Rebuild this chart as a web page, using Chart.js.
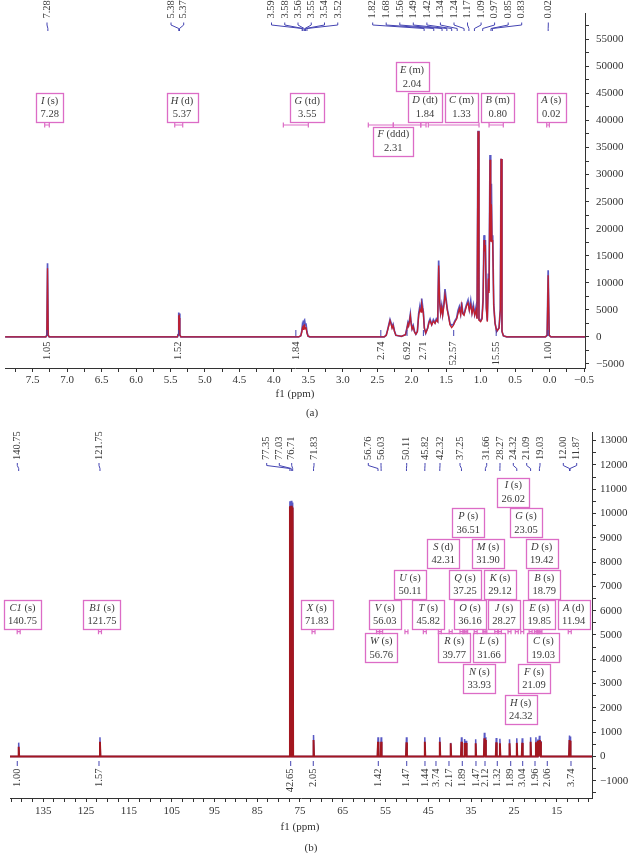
<!DOCTYPE html>
<html><head><meta charset="utf-8">
<script src="https://cdn.jsdelivr.net/npm/chart.js@4"></script>
<style>
html,body{margin:0;padding:0;background:#fff;}
#wrap{position:relative;width:628px;height:853px;overflow:hidden;background:#fff;}
#c1{position:absolute;left:0;top:0;}
#c2{position:absolute;left:0;top:420px;}
</style></head><body>
<div id="wrap">
<canvas id="c1" width="628" height="420"></canvas>
<canvas id="c2" width="628" height="433"></canvas>
</div>
<script>
// ===================== (a) 1H NMR data =====================
const H_ppm = [7.90,7.31,7.295,7.285,7.275,7.26,
 5.40,5.39,5.383,5.378,5.372,5.365,5.35,
 3.64,3.61,3.595,3.585,3.575,3.565,3.555,3.545,3.535,3.52,3.505,3.48,
 2.40,2.37,2.35,2.33,2.315,2.30,2.285,2.27,2.25,2.23,2.15,
 2.09,2.07,2.055,2.045,2.03,2.02,2.01,1.995,1.978,1.96,1.94,
 1.918,1.899,1.880,1.865,1.855,1.841,1.831,1.817,1.797,
 1.768,1.750,1.734,1.710,1.686,1.662,1.643,1.623,1.609,1.594,1.580,1.565,1.551,1.531,1.517,1.502,1.483,1.464,1.444,1.420,1.396,1.372,1.348,1.328,1.309,1.290,1.275,1.260,1.241,1.222,1.202,1.183,1.164,1.144,1.125,1.106,1.086,1.067,1.052,1.038,1.024,1.000,0.980,0.965,0.951,0.941,0.931,0.917,0.903,0.888,0.878,0.864,0.854,0.844,0.835,0.825,0.810,0.791,0.767,0.733,0.714,0.704,0.690,0.670,0.622,
 0.06,0.035,0.02,0.005,-0.02,-0.515];
const H_red = [0,0,300,12700,300,0,
 0,400,4000,3000,3500,400,0,
 0,200,900,1700,1400,2100,2200,1500,1800,700,150,0,
 0,300,1200,2200,3000,2400,1600,2100,1000,300,100,
 400,1500,2400,2000,3000,3900,2600,1400,1900,900,500,
 1000,4000,5200,4600,6050,5200,4300,1600,700,
 1600,2600,3000,2200,2900,2500,3100,2800,13200,6300,4300,5500,4000,6000,7800,6650,4900,3700,2200,1700,2100,2800,3300,4300,5200,4100,5800,4300,4000,4900,5800,6300,4900,6000,4300,5400,4000,4900,3300,38000,3100,2800,3300,6600,17900,15800,17000,5200,2800,10800,8100,32750,17600,24500,17600,17900,5800,2500,1000,1600,5000,32900,1000,200,0,
 0,300,11400,300,0,0];
const H_blue = [0,0,300,13600,300,0,
 0,400,4500,3400,4300,400,0,
 0,200,1100,2300,1800,2900,3100,2200,2500,900,150,0,
 0,300,1300,2400,3200,2600,1800,2300,1100,300,100,
 400,1600,2600,2200,3300,4200,2800,1500,2100,1000,500,
 1000,4300,5800,4900,7100,5500,4600,1700,700,
 1700,2800,3300,2300,3200,2600,3300,2900,14100,6500,4500,5800,4200,6400,8850,7100,5100,3900,2400,2200,2300,3000,3500,4900,5600,4300,6400,4500,4200,5200,6100,6800,5100,6700,4500,5900,4200,5500,3500,38100,3200,3000,3500,7000,18800,16300,17900,5400,3000,11700,8500,33600,18000,28300,18000,18800,6000,2600,1000,1700,5200,32900,1000,200,0,
 0,300,12300,300,0,0];

// peak picking labels (top)
const H_peakLabels = [7.28, 5.38,5.37, 3.59,3.58,3.56,3.55,3.54,3.52,
 1.82,1.68,1.56,1.49,1.42,1.34,1.24,1.17,1.09,0.97,0.85,0.83, 0.02];
// multiplet boxes
const H_boxLetter = ['I','H','G','F','E','D','C','B','A'];
const H_boxMult   = ['s','d','td','ddd','m','dt','m','m','s'];
const H_boxVal    = [7.28,5.37,3.55,2.31,2.04,1.84,1.33,0.80,0.02];
// integration ranges (ppm) and integrals
const H_intFrom = [7.326,5.439,3.863,2.630,2.267,1.869,1.759,0.878,0.041];
const H_intTo   = [7.259,5.323,3.500,2.267,1.869,1.792,1.023,0.671,0.003];
const H_intVal  = [1.05,1.52,1.84,2.74,6.92,2.71,52.57,15.55,1.00];
// axis tick labels
const H_xTickLabels = [7.5,7.0,6.5,6.0,5.5,5.0,4.5,4.0,3.5,3.0,2.5,2.0,1.5,1.0,0.5,0.0,-0.5];
const H_yTickLabels = [-5000,0,5000,10000,15000,20000,25000,30000,35000,40000,45000,50000,55000];

// ===================== (b) 13C NMR data =====================
const C_peakPpm = [140.75,121.75,77.35,77.03,76.71,71.83,56.76,56.03,50.11,45.82,42.32,39.77,37.25,36.51,36.16,33.93,31.90,31.66,29.12,28.27,26.02,24.32,23.05,21.09,19.85,19.42,19.03,18.79,12.00,11.87];
const C_blue = [570,790,10500,10520,10450,885,790,790,790,790,790,560,790,720,650,710,980,790,760,730,710,750,750,790,790,700,850,640,860,820];
const C_red  = [400,610,10300,10320,10250,680,610,610,580,610,610,540,610,560,560,540,750,680,580,540,540,560,560,610,590,640,680,610,680,650];
const C_peakLabels = [140.75,121.75,77.35,77.03,76.71,71.83,56.76,56.03,50.11,45.82,42.32,37.25,31.66,28.27,24.32,21.09,19.03,12.00,11.87];
const C_boxLetter = ['I','P','G','S','M','D','U','Q','K','B','C1','B1','X','V','T','O','J','E','A','W','R','L','C','N','F','H'];
const C_boxMult   = ['s','s','s','d','s','s','s','s','s','s','s','s','s','s','s','s','s','s','d','s','s','s','s','s','s','s'];
const C_boxVal    = [26.02,36.51,23.05,42.31,31.90,19.42,50.11,37.25,29.12,18.79,140.75,121.75,71.83,56.03,45.82,36.16,28.27,19.85,11.94,56.76,39.77,31.66,19.03,33.93,21.09,24.32];
const C_intPpm = [141.08,121.98,77.17,71.89,56.69,50.05,45.78,43.21,40.17,37.06,33.86,31.75,28.88,25.74,22.94,20.06,17.19,11.65];
const C_intVal = [1.00,1.57,42.65,2.05,1.42,1.47,1.44,3.74,2.17,1.89,1.47,2.12,1.32,1.89,3.04,1.96,2.06,3.74];
const C_xTickLabels = [135,125,115,105,95,85,75,65,55,45,35,25,15];
const C_yTickLabels = [-1000,0,1000,2000,3000,4000,5000,6000,7000,8000,9000,10000,11000,12000,13000];

// ===================== layout (pixels) =====================
const H_labelX = [47, 171,183.7, 271.5,284.75,298,311.25,324.5,337.75,
 372.7,386.2,399.8,413.3,426.9,440.4,454,467.5,481.1,494.6,508.2,521.7, 548.3];
const H_boxPos = [[49.7,93],[182,93],[307.2,93],[393.3,126.7],[412,62.3],[425,92.7],[461.5,92.7],[497.7,92.7],[551.2,92.7]];
const C_labelX = [17.3,99,266.7,279.3,291.7,314,368.3,381,406.7,425,440,460,486.7,500,513.3,526.7,540,563.3,576.7];
const C_boxPos = [[513.3,477.7],[468.3,508.3],[526,508.3],[443.3,539],[488,539],[541.7,539],[410,570],[465,570],[500,570],[544.3,570],[22.5,600],[102,600],[316.7,600],[384.7,600],[428.3,600],[470,600],[504,600],[539.3,600],[573.7,600],[381.3,633.3],[454.3,633.3],[489,633.3],[543.3,633.3],[479.3,664],[534,664],[520.7,695]];

// ===================== helpers =====================
const SERIF = "'Liberation Serif','DejaVu Serif',serif";
const MAG = '#dc6cc6';
const BLUE = '#4444b2';
const TXT = '#3a3a3a';
Chart.defaults.font.family = SERIF;
Chart.defaults.font.size = 11;
Chart.defaults.color = '#333';
Chart.defaults.animation = false;

const minus = s => s.replace('-', '\u2212');
const near = (a, list) => list.some(v => Math.abs(v - a) < 1e-6);
const toXY = (xs, ys) => xs.map((x, i) => ({x: x, y: ys[i]}));
function stepTicks(from, to, step) { const t = []; for (let v = from; v <= to + 1e-9; v += step) t.push({value: Math.round(v * 1000) / 1000}); return t; }
function sticks(ppm, h, hi, lo, half) {
  const pts = [{x: hi, y: 0}];
  ppm.forEach((p, i) => { pts.push({x: p + half, y: 0}, {x: p, y: h[i]}, {x: p - half, y: 0}); });
  pts.push({x: lo, y: 0});
  return pts;
}
function rotText(ctx, text, x, y, anchorBottom) {
  ctx.save();
  ctx.translate(x, y);
  ctx.rotate(-Math.PI / 2);
  ctx.textAlign = anchorBottom ? 'left' : 'right';
  ctx.textBaseline = 'middle';
  ctx.fillText(text, 0, 0);
  ctx.restore();
}
function box(ctx, cx, top, letter, mult, val) {
  const fI = 'italic 10.5px ' + SERIF, fN = '10.5px ' + SERIF;
  ctx.font = fI; const wL = ctx.measureText(letter).width;
  ctx.font = fN; const wM = ctx.measureText(' (' + mult + ')').width;
  const vs = val.toFixed(2); const wV = ctx.measureText(vs).width;
  const w = Math.max(wL + wM, wV) + 8.5, h = 29;
  ctx.strokeStyle = MAG; ctx.lineWidth = 1.3;
  ctx.strokeRect(Math.round(cx - w / 2) + 0.5, Math.round(top) + 0.5, Math.round(w), h);
  ctx.fillStyle = TXT; ctx.textBaseline = 'middle'; ctx.textAlign = 'left';
  const x1 = cx - (wL + wM) / 2;
  ctx.font = fI; ctx.fillText(letter, x1, top + 8);
  ctx.font = fN; ctx.fillText(' (' + mult + ')', x1 + wL, top + 8);
  ctx.textAlign = 'center'; ctx.fillText(vs, cx, top + 21.5);
}
function bracket(ctx, lx, px, y0, y1, y2, y3) {
  ctx.beginPath();
  ctx.moveTo(lx, y0); ctx.lineTo(lx, y1); ctx.lineTo(px, y2); ctx.lineTo(px, y3);
  ctx.stroke();
}
function rangeBar(ctx, x1, x2, y) {
  ctx.beginPath();
  ctx.moveTo(x1, y); ctx.lineTo(x2, y);
  ctx.moveTo(x1, y - 2.5); ctx.lineTo(x1, y + 2.5);
  ctx.moveTo(x2, y - 2.5); ctx.lineTo(x2, y + 2.5);
  ctx.stroke();
}

// ===================== plugin (a) =====================
const annotA = {
  id: 'annotA',
  afterDraw(chart) {
    const ctx = chart.ctx, xs = chart.scales.x;
    const px = v => xs.getPixelForValue(v);
    ctx.save();
    ctx.font = '10.5px ' + SERIF; ctx.fillStyle = TXT;
    H_peakLabels.forEach((v, i) => rotText(ctx, v.toFixed(2), H_labelX[i], 18.5, true));
    ctx.strokeStyle = BLUE; ctx.lineWidth = 1;
    H_peakLabels.forEach((v, i) => bracket(ctx, H_labelX[i], px(v), 22.5, 25, 28.5, 31));
    ctx.strokeStyle = MAG; ctx.lineWidth = 1.2;
    H_intFrom.forEach((f, i) => rangeBar(ctx, px(f), px(H_intTo[i]), 125));
    H_boxLetter.forEach((l, i) => box(ctx, H_boxPos[i][0], H_boxPos[i][1], l, H_boxMult[i], H_boxVal[i]));
    ctx.strokeStyle = BLUE; ctx.lineWidth = 1;
    ctx.font = '10.5px ' + SERIF; ctx.fillStyle = TXT;
    H_intVal.forEach((v, i) => {
      const x = px((H_intFrom[i] + H_intTo[i]) / 2);
      ctx.beginPath(); ctx.moveTo(x, 330); ctx.lineTo(x, 336); ctx.stroke();
      rotText(ctx, v.toFixed(2), x, 341.5, false);
    });
    ctx.font = '11px ' + SERIF; ctx.fillStyle = '#333'; ctx.textAlign = 'center'; ctx.textBaseline = 'middle';
    ctx.fillText('f1 (ppm)', 295, 394);
    ctx.fillText('(a)', 312, 413);
    ctx.restore();
  }
};

// ===================== plugin (b) =====================
const OFF = 420;
const annotB = {
  id: 'annotB',
  afterDraw(chart) {
    const ctx = chart.ctx, xs = chart.scales.x;
    const px = v => xs.getPixelForValue(v);
    ctx.save();
    ctx.font = '10.5px ' + SERIF; ctx.fillStyle = TXT;
    C_peakLabels.forEach((v, i) => rotText(ctx, v.toFixed(2), C_labelX[i], 460 - OFF, true));
    ctx.strokeStyle = BLUE; ctx.lineWidth = 1;
    C_peakLabels.forEach((v, i) => bracket(ctx, C_labelX[i], px(v), 463 - OFF, 465.5 - OFF, 468.5 - OFF, 471 - OFF));
    C_boxLetter.forEach((l, i) => box(ctx, C_boxPos[i][0], C_boxPos[i][1] - OFF, l, C_boxMult[i], C_boxVal[i]));
    ctx.strokeStyle = MAG; ctx.lineWidth = 1.2;
    C_boxVal.forEach(v => { const x = px(v); rangeBar(ctx, x - 1.5, x + 1.5, 631.7 - OFF); });
    ctx.strokeStyle = BLUE; ctx.lineWidth = 1;
    ctx.font = '10.5px ' + SERIF; ctx.fillStyle = TXT;
    C_intVal.forEach((v, i) => {
      const x = px(C_intPpm[i]);
      ctx.beginPath(); ctx.moveTo(x, 761 - OFF); ctx.lineTo(x, 766 - OFF); ctx.stroke();
      rotText(ctx, v.toFixed(2), x, 768.5 - OFF, false);
    });
    ctx.font = '11px ' + SERIF; ctx.fillStyle = '#333'; ctx.textAlign = 'center'; ctx.textBaseline = 'middle';
    ctx.fillText('f1 (ppm)', 300, 827 - OFF);
    ctx.fillText('(b)', 311, 848 - OFF);
    ctx.restore();
  }
};

function axisCommon(extra) {
  return Object.assign({
    grid: {drawOnChartArea: false, drawTicks: true, tickLength: 4, color: '#333', tickColor: '#333', lineWidth: 1},
    border: {display: true, color: '#333', width: 1}
  }, extra);
}

// ===================== chart (a) =====================
new Chart(document.getElementById('c1'), {
  type: 'scatter',
  data: {datasets: [
    {data: toXY(H_ppm, H_red), showLine: true, borderColor: '#c01f2e', borderWidth: 1.3, pointRadius: 0, order: 0},
    {data: toXY(H_ppm, H_blue), showLine: true, borderColor: 'rgba(70,70,190,0.9)', borderWidth: 1.7, pointRadius: 0, order: 1}
  ]},
  options: {
    responsive: false, animation: false, events: [],
    layout: {padding: {left: 5, top: 0, right: 0, bottom: 0}},
    plugins: {legend: {display: false}, tooltip: {enabled: false}},
    scales: {
      x: axisCommon({type: 'linear', position: 'bottom', reverse: true, min: -0.5145, max: 7.902,
        afterFit(s) { s.height = 52; },
        afterBuildTicks(s) { s.ticks = stepTicks(-0.5, 7.75, 0.25); },
        ticks: {autoSkip: false, maxRotation: 0, minRotation: 0, padding: 2, font: {size: 11},
          callback: v => near(v, H_xTickLabels) ? minus(Number(v).toFixed(1)) : ''}}),
      y: axisCommon({type: 'linear', position: 'right', min: -5750, max: 59750,
        afterFit(s) { s.width = 43; },
        afterBuildTicks(s) { s.ticks = stepTicks(-5000, 57500, 2500); },
        ticks: {autoSkip: false, padding: 7, font: {size: 11},
          callback: v => near(v, H_yTickLabels) ? minus(String(v)) : ''}})
    }
  },
  plugins: [annotA]
});

// ===================== chart (b) =====================
const C_MIN = 6.74, C_MAX = 142.78;
new Chart(document.getElementById('c2'), {
  type: 'scatter',
  data: {datasets: [
    {data: sticks(C_peakPpm, C_red, C_MAX, C_MIN, 0.12), showLine: true, borderColor: '#a3161f', borderWidth: 1.9, pointRadius: 0, order: 0},
    {data: sticks(C_peakPpm, C_blue, C_MAX, C_MIN, 0.12), showLine: true, borderColor: 'rgba(70,70,190,0.9)', borderWidth: 1.5, pointRadius: 0, order: 1}
  ]},
  options: {
    responsive: false, animation: false, events: [],
    layout: {padding: {left: 10, top: 12, right: 0, bottom: 0}},
    plugins: {legend: {display: false}, tooltip: {enabled: false}},
    scales: {
      x: axisCommon({type: 'linear', position: 'bottom', reverse: true, min: C_MIN, max: C_MAX,
        afterFit(s) { s.height = 55; },
        afterBuildTicks(s) { s.ticks = stepTicks(7.5, 142.5, 2.5); },
        ticks: {autoSkip: false, maxRotation: 0, minRotation: 0, padding: 3, font: {size: 11},
          callback: v => near(v, C_xTickLabels) ? String(v) : ''}}),
      y: axisCommon({type: 'linear', position: 'right', min: -1708, max: 13354,
        afterFit(s) { s.width = 36; },
        afterBuildTicks(s) { s.ticks = stepTicks(-1500, 13000, 500); },
        ticks: {autoSkip: false, padding: 4, font: {size: 11},
          callback: v => near(v, C_yTickLabels) ? minus(String(v)) : ''}})
    }
  },
  plugins: [annotB]
});
</script>
</body></html>
